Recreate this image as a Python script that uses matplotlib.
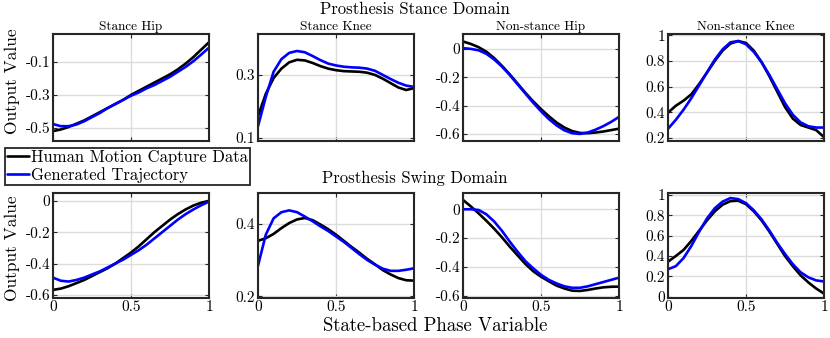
import numpy as np
import matplotlib
matplotlib.use("Agg")
import matplotlib.pyplot as plt
from matplotlib.ticker import FuncFormatter

plt.rcParams['font.family'] = ['cmr10', 'DejaVu Serif']
plt.rcParams['axes.unicode_minus'] = False
plt.rcParams['mathtext.fontset'] = 'cm'

phase = [0, 0.05, 0.1, 0.15, 0.2, 0.25, 0.3, 0.35, 0.4, 0.45, 0.5,
         0.55, 0.6, 0.65, 0.7, 0.75, 0.8, 0.85, 0.9, 0.95, 1.0]

# Prosthesis Stance Domain
st_hip_human = [-0.52, -0.51, -0.495, -0.475, -0.455, -0.43, -0.405, -0.38, -0.355, -0.33, -0.30,
                -0.275, -0.25, -0.225, -0.20, -0.175, -0.145, -0.11, -0.07, -0.025, 0.02]
st_hip_gen = [-0.477, -0.49, -0.49, -0.48, -0.46, -0.435, -0.41, -0.38, -0.355, -0.33, -0.305,
              -0.285, -0.26, -0.24, -0.215, -0.19, -0.16, -0.13, -0.095, -0.055, -0.013]
st_knee_human = [0.169, 0.24, 0.29, 0.32, 0.34, 0.348, 0.346, 0.338, 0.328, 0.32, 0.315,
                 0.312, 0.311, 0.31, 0.307, 0.30, 0.288, 0.274, 0.26, 0.252, 0.258]
st_knee_gen = [0.137, 0.23, 0.31, 0.35, 0.37, 0.376, 0.372, 0.36, 0.347, 0.336, 0.33,
               0.326, 0.324, 0.323, 0.32, 0.313, 0.30, 0.287, 0.275, 0.266, 0.262]
st_nhip_human = [0.052, 0.035, 0.012, -0.02, -0.065, -0.12, -0.18, -0.245, -0.31, -0.37, -0.425,
                 -0.475, -0.52, -0.555, -0.58, -0.593, -0.595, -0.59, -0.583, -0.573, -0.563]
st_nhip_gen = [0.005, 0.0, -0.01, -0.035, -0.075, -0.125, -0.185, -0.25, -0.315, -0.38, -0.44,
               -0.495, -0.54, -0.575, -0.595, -0.60, -0.59, -0.57, -0.545, -0.515, -0.48]
st_nknee_human = [0.396, 0.45, 0.49, 0.54, 0.62, 0.71, 0.80, 0.88, 0.935, 0.955, 0.94,
                  0.88, 0.79, 0.68, 0.56, 0.44, 0.35, 0.30, 0.28, 0.26, 0.205]
st_nknee_gen = [0.27, 0.34, 0.42, 0.51, 0.61, 0.71, 0.81, 0.89, 0.945, 0.955, 0.93,
                0.87, 0.79, 0.69, 0.58, 0.47, 0.38, 0.32, 0.29, 0.28, 0.28]

# Prosthesis Swing Domain
sw_hip_human = [-0.568, -0.56, -0.545, -0.525, -0.505, -0.48, -0.455, -0.43, -0.40, -0.365, -0.33,
                -0.29, -0.245, -0.20, -0.16, -0.12, -0.085, -0.055, -0.03, -0.012, 0.0]
sw_hip_gen = [-0.49, -0.51, -0.515, -0.505, -0.49, -0.47, -0.45, -0.425, -0.40, -0.375, -0.345,
              -0.315, -0.28, -0.24, -0.20, -0.16, -0.12, -0.085, -0.055, -0.028, -0.005]
sw_knee_human = [0.353, 0.36, 0.372, 0.388, 0.402, 0.412, 0.416, 0.41, 0.398, 0.385, 0.37,
                 0.353, 0.336, 0.32, 0.303, 0.288, 0.272, 0.26, 0.25, 0.244, 0.243]
sw_knee_gen = [0.284, 0.37, 0.415, 0.432, 0.437, 0.432, 0.42, 0.407, 0.393, 0.38, 0.365,
               0.35, 0.333, 0.316, 0.30, 0.287, 0.276, 0.27, 0.27, 0.273, 0.277]
sw_nhip_human = [0.065, 0.02, -0.028, -0.08, -0.135, -0.195, -0.26, -0.32, -0.38, -0.43, -0.468,
                 -0.50, -0.53, -0.55, -0.565, -0.567, -0.56, -0.55, -0.542, -0.538, -0.537]
sw_nhip_gen = [0.0, 0.0, -0.005, -0.035, -0.085, -0.15, -0.225, -0.295, -0.36, -0.41, -0.455,
               -0.49, -0.515, -0.535, -0.545, -0.545, -0.535, -0.52, -0.505, -0.49, -0.475]
sw_nknee_human = [0.344, 0.40, 0.46, 0.55, 0.65, 0.75, 0.84, 0.905, 0.94, 0.944, 0.91,
                  0.84, 0.75, 0.64, 0.52, 0.40, 0.30, 0.21, 0.14, 0.08, 0.03]
sw_nknee_gen = [0.27, 0.30, 0.38, 0.50, 0.64, 0.77, 0.87, 0.935, 0.97, 0.96, 0.92,
                0.85, 0.76, 0.65, 0.53, 0.42, 0.32, 0.24, 0.19, 0.16, 0.15]

subplot_titles = ["Stance Hip", "Stance Knee", "Non-stance Hip", "Non-stance Knee"]
legend_labels = ["Human Motion Capture Data", "Generated Trajectory"]
x_ticks = [0, 0.5, 1]

row1 = [(st_hip_human, st_hip_gen), (st_knee_human, st_knee_gen),
        (st_nhip_human, st_nhip_gen), (st_nknee_human, st_nknee_gen)]
row2 = [(sw_hip_human, sw_hip_gen), (sw_knee_human, sw_knee_gen),
        (sw_nhip_human, sw_nhip_gen), (sw_nknee_human, sw_nknee_gen)]

row1_yticks = [[-0.5, -0.3, -0.1], [0.1, 0.3], [-0.6, -0.4, -0.2, 0], [0.2, 0.4, 0.6, 0.8, 1]]
row2_yticks = [[-0.6, -0.4, -0.2, 0], [0.2, 0.4], [-0.6, -0.4, -0.2, 0], [0, 0.2, 0.4, 0.6, 0.8, 1]]
row1_ylim = [(-0.58, 0.07), (0.09, 0.43), (-0.65, 0.105), (0.175, 1.01)]
row2_ylim = [(-0.62, 0.05), (0.195, 0.485), (-0.616, 0.113), (-0.013, 1.02)]

W, H = 830, 338
fig = plt.figure(figsize=(W / 100, H / 100), dpi=100)

lefts = [53, 258, 463, 668]
axw = 156
row_tb = [(34, 141), (193, 298)]

fmt = FuncFormatter(lambda v, p: "%g" % v)
handles = None
for r, (rowdata, yt, yl) in enumerate([(row1, row1_yticks, row1_ylim), (row2, row2_yticks, row2_ylim)]):
    top, bot = row_tb[r]
    for c in range(4):
        ax = fig.add_axes([lefts[c] / W, 1 - bot / H, axw / W, (bot - top) / H])
        hum, gen = rowdata[c]
        lh, = ax.plot(phase, hum, color='black', lw=1.9, solid_capstyle='round')
        lg, = ax.plot(phase, gen, color='#0000ff', lw=1.9, solid_capstyle='round')
        handles = [lh, lg]
        ax.set_xlim(0, 1)
        ax.set_ylim(*yl[c])
        ax.set_xticks(x_ticks)
        ax.set_yticks(yt[c])
        ax.yaxis.set_major_formatter(fmt)
        ax.xaxis.set_major_formatter(fmt)
        ax.grid(True, color='#dcdcdc', lw=1.0)
        ax.set_axisbelow(True)
        ax.tick_params(direction='in', length=3, width=0.8, top=True, right=True,
                       labelsize=11, pad=2, colors='#262626')
        ax.tick_params(labelcolor='black')
        for s in ax.spines.values():
            s.set_linewidth(1.5)
            s.set_color('#262626')
        if r == 0:
            ax.set_xticklabels([])
            ax.set_title(subplot_titles[c], fontsize=9.5, pad=3)

fig.text(415 / W, 1 - 9 / H, "Prosthesis Stance Domain", ha='center', va='center', fontsize=12)
fig.text(415 / W, 1 - 178 / H, "Prosthesis Swing Domain", ha='center', va='center', fontsize=12)
fig.text(12 / W, 1 - 81 / H, "Output Value", rotation=90, ha='center', va='center', fontsize=12.5)
fig.text(12 / W, 1 - 248 / H, "Output Value", rotation=90, ha='center', va='center', fontsize=12.5)
fig.text(435 / W, 1 - 326 / H, "State-based Phase Variable", ha='center', va='center', fontsize=13.5)

leg = fig.legend(handles, legend_labels, loc='upper left',
                 bbox_to_anchor=(5 / W, 1 - 148 / H), fontsize=12,
                 handlelength=1.3, handletextpad=0.15, borderpad=0.12,
                 borderaxespad=0, labelspacing=0.1, fancybox=False,
                 framealpha=1, edgecolor='#262626')
leg.get_frame().set_linewidth(1.3)

fig.savefig("out.png", dpi=100)
